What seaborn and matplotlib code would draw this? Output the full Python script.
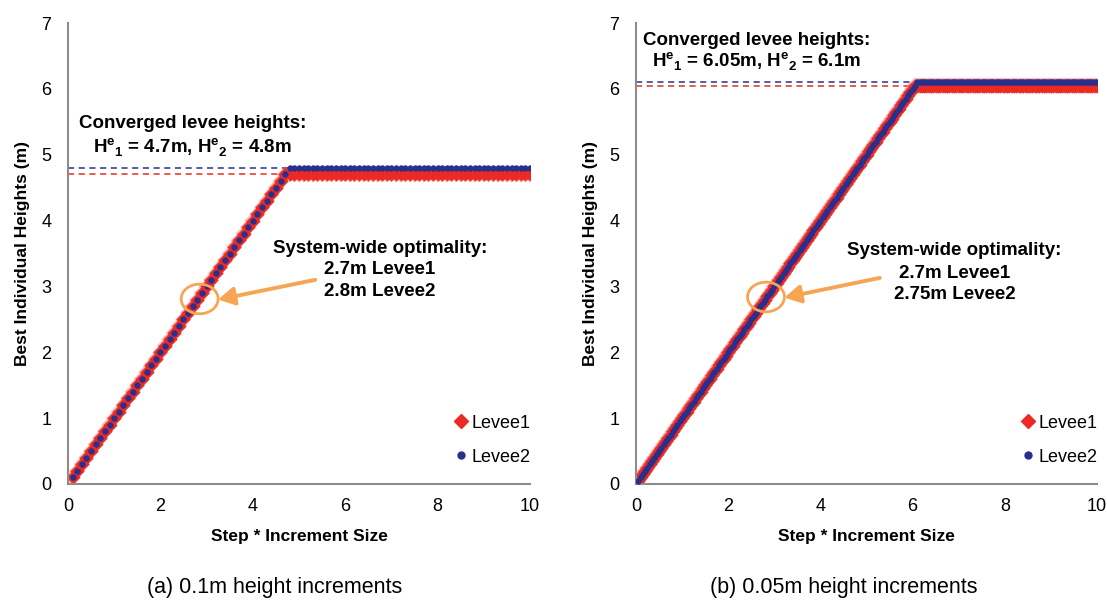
import numpy as np
import pandas as pd
import matplotlib
matplotlib.use("Agg")
import matplotlib.pyplot as plt
from matplotlib.patches import Ellipse
from matplotlib.lines import Line2D
import seaborn as sns

sns.set_theme(style="white")
plt.rcParams["font.family"] = ["Liberation Sans", "DejaVu Sans"]
plt.rcParams["text.color"] = "black"
plt.rcParams["axes.labelcolor"] = "black"
plt.rcParams["mathtext.fontset"] = "custom"
plt.rcParams["mathtext.rm"] = "Liberation Sans"
plt.rcParams["mathtext.bf"] = "Liberation Sans:bold"

# Two runs with different height increments
increments = [0.1, 0.05]
n_steps = [100, 200]
converged_levee1 = [4.7, 6.05]
converged_levee2 = [4.8, 6.1]
panel_captions = ["(a) 0.1m height increments", "(b) 0.05m height increments"]
conv_labels = [
    r"H$^{\mathbf{e}}{}_{\mathbf{1}}$ = 4.7m, H$^{\mathbf{e}}{}_{\mathbf{2}}$ = 4.8m",
    r"H$^{\mathbf{e}}{}_{\mathbf{1}}$ = 6.05m, H$^{\mathbf{e}}{}_{\mathbf{2}}$ = 6.1m",
]
opt_lines = [
    ["System-wide optimality:", "2.7m Levee1", "2.8m Levee2"],
    ["System-wide optimality:", "2.7m Levee1", "2.75m Levee2"],
]
xticks = [0, 2, 4, 6, 8, 10]
yticks = [0, 1, 2, 3, 4, 5, 6, 7]

RED = "#ec2a24"
BLUE = "#2b2f8c"
ORANGE = "#f6a553"
GRAY = "#8c8c8c"

fig = plt.figure(figsize=(11.07, 6.01), dpi=100)
axes = [
    fig.add_axes([0.0614, 0.1947, 0.4174, 0.767]),
    fig.add_axes([0.5745, 0.1947, 0.4165, 0.767]),
]

conv_text_pos = [(2.69, 5.48, 5.12), (2.62, 6.74, 6.42)]
opt_text_x = [6.75, 6.91]
opt_text_y = [[3.58, 3.25, 2.92], [3.54, 3.20, 2.87]]
ellipse_center = [(2.85, 2.81), (2.82, 2.84)]
arrow_tail = [(5.35, 3.10), (5.29, 3.13)]
arrow_head = [(3.25, 2.80), (3.22, 2.83)]

for i, ax in enumerate(axes):
    inc = increments[i]
    steps = np.arange(1, n_steps[i] + 1)
    x = steps * inc
    # Each step raises the best height by one increment until it converges
    h1 = np.minimum(x, converged_levee1[i])
    h2 = np.minimum(x, converged_levee2[i])
    df = pd.DataFrame({"x": np.concatenate([x, x]),
                       "h": np.concatenate([h1, h2]),
                       "levee": ["Levee1"] * len(x) + ["Levee2"] * len(x)})

    knee = converged_levee2[i]
    ax.plot([0, knee], [converged_levee1[i]] * 2, ls=(0, (4, 3)), color=RED, lw=1.1, zorder=1)
    ax.plot([0, 10.1], [converged_levee2[i]] * 2, ls=(0, (4, 3)), color=BLUE, lw=1.1, zorder=1)

    # soft halo under the diamonds, then the diamonds themselves
    sns.scatterplot(data=df[df.levee == "Levee1"], x="x", y="h", ax=ax, marker="D",
                    s=70, color="#f47c78", edgecolor="none", alpha=0.5, zorder=2, legend=False)
    sns.scatterplot(data=df[df.levee == "Levee1"], x="x", y="h", ax=ax, marker="D",
                    s=45, color=RED, edgecolor=RED, linewidth=0.5, zorder=2, legend=False)
    sns.scatterplot(data=df[df.levee == "Levee2"], x="x", y="h", ax=ax, marker="o",
                    s=18, color=BLUE, edgecolor=BLUE, linewidth=0.3, zorder=3, legend=False)

    ax.set_xlim(0, 10)
    ax.set_ylim(0, 7)
    ax.set_xticks(xticks)
    ax.set_yticks(yticks)
    ax.tick_params(axis="x", labelsize=13, length=0, pad=10, colors="black")
    ax.tick_params(axis="y", labelsize=13, length=0, pad=12, colors="black")
    for side in ["top", "right"]:
        ax.spines[side].set_visible(False)
    for side in ["left", "bottom"]:
        ax.spines[side].set_color(GRAY)
        ax.spines[side].set_linewidth(1.5)
    ax.set_xlabel("Step * Increment Size", fontsize=12.5, fontweight="bold", labelpad=10)
    ax.set_ylabel("Best Individual Heights (m)", fontsize=12.5, fontweight="bold", labelpad=8)

    cx, y1, y2 = conv_text_pos[i]
    ax.text(cx, y1, "Converged levee heights:", ha="center", va="center",
            fontsize=13.5, fontweight="bold")
    ax.text(cx, y2, conv_labels[i], ha="center", va="center", fontsize=13.5, fontweight="bold")

    for line, ly in zip(opt_lines[i], opt_text_y[i]):
        ax.text(opt_text_x[i], ly, line, ha="center", va="center",
                fontsize=13.5, fontweight="bold")

    ax.add_patch(Ellipse(ellipse_center[i], 0.8, 0.45, angle=0, fill=False,
                         edgecolor=ORANGE, lw=2, zorder=4))
    ax.annotate("", xy=arrow_head[i], xytext=arrow_tail[i],
                arrowprops=dict(arrowstyle="-|>,head_length=0.8,head_width=0.45",
                                color=ORANGE, lw=2.8, shrinkA=0, shrinkB=0), zorder=5)

    handles = [
        Line2D([], [], ls="none", marker="D", color=RED, markersize=7),
        Line2D([], [], ls="none", marker="o", color=BLUE, markersize=5),
    ]
    ax.legend(handles, ["Levee1", "Levee2"], loc="center left", bbox_to_anchor=(0.815, 0.095),
              frameon=False, fontsize=13, handlelength=0.8, handletextpad=0.2,
              labelspacing=0.95, borderpad=0)

    fig.text([0.248, 0.762][i], 1 - 588 / 601, panel_captions[i], ha="center", va="center",
             fontsize=15.5)

fig.savefig("out.png", dpi=100)
